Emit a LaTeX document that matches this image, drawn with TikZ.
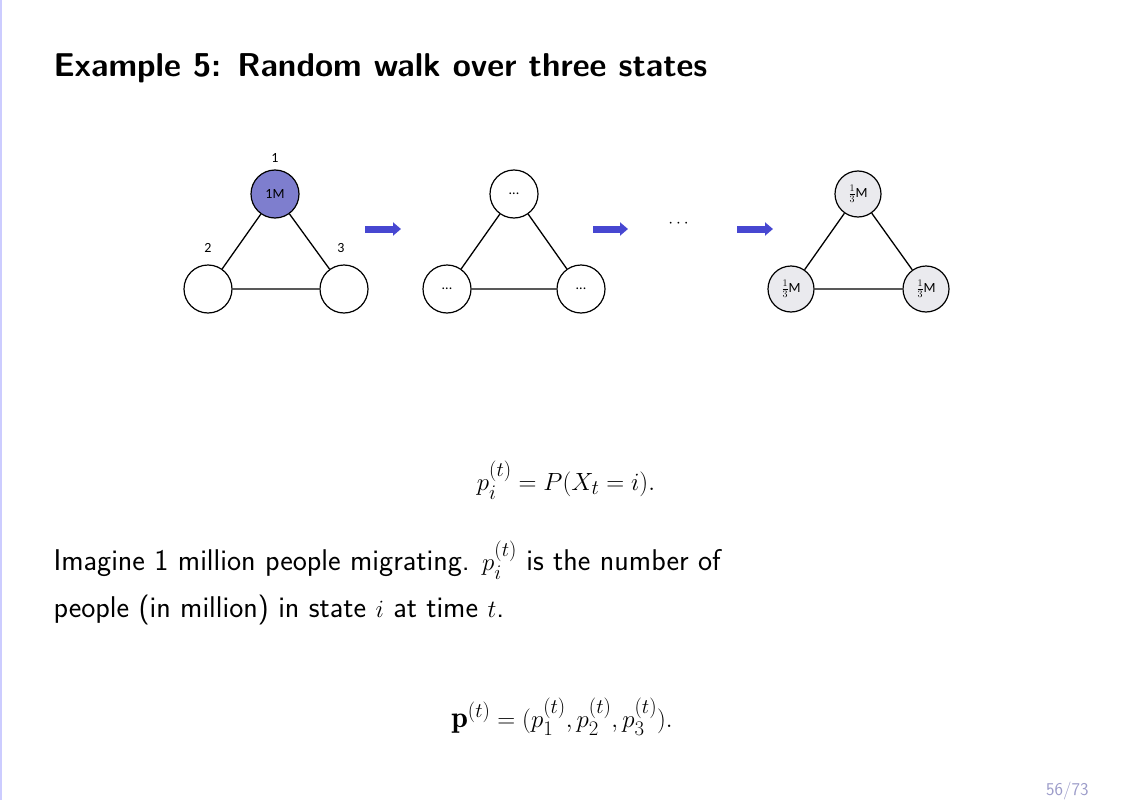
\documentclass[tikz,border=0pt]{standalone}
\usepackage{fontspec}
\usepackage{amsmath}
\newfontfamily\calfnt{Carlito}
\usetikzlibrary{arrows.meta}
\tikzset{st/.style={circle,draw,line width=1.2pt,minimum size=48pt,inner sep=0pt,font=\calfnt\fontsize{14}{16}\selectfont,fill=white},
full/.style={fill=blue!45!gray!70!white},
eq/.style={fill=blue!10!gray!15},
edge/.style={line width=1.3pt},
bar/.style={line width=7pt,-{Triangle[length=8pt,width=13pt]},draw=blue!60!gray!90},
lab/.style={font=\calfnt\fontsize{14}{16}\selectfont},
body/.style={font=\sffamily\fontsize{30}{36}\selectfont,anchor=base west}}
\begin{document}
\begin{tikzpicture}[x=1pt,y=-1pt]
\useasboundingbox (0,0) rectangle (1130,800);
\draw[blue!20!white,line width=1.5pt] (1,0)--(1,800);
\node[anchor=base west,font=\sffamily\bfseries\fontsize{33}{36}\selectfont] (title) at (50,77) {Example 5: Random walk over three states};
% triangle 1
\node[st,full] (a1) at (275,194) {1M};
\node[st] (a2) at (208,289) {};
\node[st] (a3) at (344,289) {};
\draw[edge] (a1)--(a2) (a1)--(a3) (a2)--(a3);
\node[lab] (l1) at (275,158) {1};
\node[lab] (l2) at (208,248) {2};
\node[lab] (l3) at (341,248) {3};
% triangle 2
\node[st] (b1) at (514,194) {...};
\node[st] (b2) at (447,289) {...};
\node[st] (b3) at (581,289) {...};
\draw[edge] (b1)--(b2) (b1)--(b3) (b2)--(b3);
% triangle 3
\node[st,eq,minimum size=46pt] (c1) at (858,194) {$\frac13$M};
\node[st,eq,minimum size=46pt] (c2) at (791,289) {$\frac13$M};
\node[st,eq,minimum size=46pt] (c3) at (926,289) {$\frac13$M};
\draw[edge] (c1)--(c2) (c1)--(c3) (c2)--(c3);
% arrows
\coordinate (p1) at (365,229); \coordinate (q1) at (401,229);
\coordinate (p2) at (593,229); \coordinate (q2) at (628,229);
\coordinate (p3) at (737,229); \coordinate (q3) at (773,229);
\draw[bar] (p1)--(q1); \draw[bar] (p2)--(q2); \draw[bar] (p3)--(q3);
\node[font=\fontsize{16}{18}\selectfont] (dots) at (680,224) {$\cdots$};
% text
\node[font=\fontsize{30}{36}\selectfont,anchor=base] (e1) at (566,490) {$p_i^{(t)}=P(X_t=i).$};
\node[body] (t1) at (50,570) {Imagine 1 million people migrating. $p_i^{(t)}$ is the number of};
\node[body] (t2) at (50,617) {people (in million) in state $i$ at time $t$.};
\node[font=\fontsize{30}{36}\selectfont,anchor=base] (e2) at (562,727) {$\mathbf{p}^{(t)}=(p_1^{(t)},p_2^{(t)},p_3^{(t)}).$};
\node[anchor=base east,font=\sffamily\fontsize{18}{20}\selectfont,text=blue!30!gray!60] (pg) at (1092,795) {56/73};
\end{tikzpicture}
\end{document}
